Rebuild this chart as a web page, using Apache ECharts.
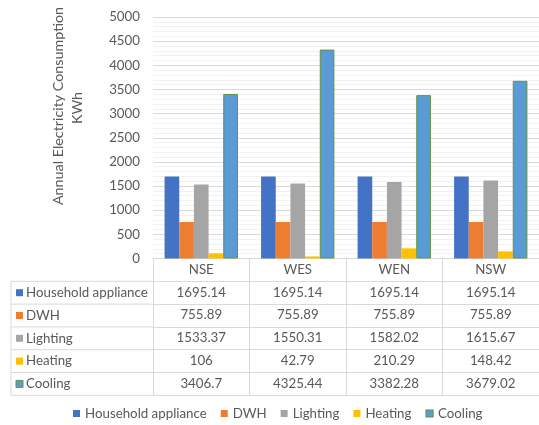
<!DOCTYPE html>
<html>
<head>
<meta charset="utf-8">
<script src="https://cdn.jsdelivr.net/npm/echarts@6/dist/echarts.min.js"></script>
<style>html,body{margin:0;padding:0;background:#fff}#c{width:539px;height:425px}</style>
</head>
<body>
<div id="c"></div>
<script>
var categories = ['NSE', 'WES', 'WEN', 'NSW'];
var seriesNames = ['Household appliance', 'DWH', 'Lighting', 'Heating', 'Cooling'];
var household = [1695.14, 1695.14, 1695.14, 1695.14];
var dwh = [755.89, 755.89, 755.89, 755.89];
var lighting = [1533.37, 1550.31, 1582.02, 1615.67];
var heating = [106, 42.79, 210.29, 148.42];
var cooling = [3406.7, 4325.44, 3382.28, 3679.02];
var yTicks = [0, 500, 1000, 1500, 2000, 2500, 3000, 3500, 4000, 4500, 5000];
var colors = ['#4472C4', '#ED7D31', '#A5A5A5', '#FFC000', '#5B9BD5'];

var seriesData = [household, dwh, lighting, heating, cooling];
var FONT = 'Lato';
var FS = 13.3;
var TXT = '#595959';
var LINE = '#D9D9D9';
var BORDER = '#5F9440';
var W = 539, H = 425;
var gridLeft = 153, gridTop = 17, axisY = 258.5, rowH = 22.8, tableLeft = 11;

var chart = echarts.init(document.getElementById('c'), null, {renderer: 'canvas'});

var xAxes = [{
  type: 'category', gridIndex: 0, position: 'bottom', data: categories,
  axisLine: {lineStyle: {color: LINE}},
  axisTick: {show: true, length: rowH, interval: 0, lineStyle: {color: LINE}},
  axisLabel: {color: TXT, fontFamily: FONT, fontSize: FS, margin: 4.5, interval: 0}
}];
seriesData.forEach(function (vals, k) {
  xAxes.push({
    type: 'category', gridIndex: 0, position: 'bottom', offset: rowH * (k + 1), data: categories,
    axisLine: {lineStyle: {color: LINE}},
    axisTick: {show: true, length: rowH, interval: 0, lineStyle: {color: LINE}},
    axisLabel: {color: TXT, fontFamily: FONT, fontSize: FS, margin: 4.5, interval: 0,
      formatter: (function (v) { return function (val, idx) { return String(v[idx]); }; })(vals)}
  });
});
xAxes.push({
  type: 'category', gridIndex: 0, position: 'bottom', offset: rowH * 6, data: categories,
  axisLine: {lineStyle: {color: LINE}}, axisTick: {show: false}, axisLabel: {show: false}
});

var series = seriesNames.map(function (name, i) {
  var s = {
    name: name, type: 'bar', xAxisIndex: 0, yAxisIndex: 0, data: seriesData[i],
    barGap: 0, barCategoryGap: '24%',
    itemStyle: {color: colors[i]}
  };
  if (i === 4) { s.itemStyle.borderColor = BORDER; s.itemStyle.borderWidth = 1; }
  return s;
});

var legendData = seriesNames.map(function (name, i) {
  var d = {name: name, itemStyle: {color: colors[i], borderWidth: 0}};
  if (i === 4) { d.itemStyle = {color: colors[i], borderColor: BORDER, borderWidth: 1.2}; }
  return d;
});

var graphics = [];
// y-axis title
graphics.push({type: 'text', x: 58, y: 106, rotation: Math.PI / 2,
  style: {text: 'Annual Electricity Consumption', fill: TXT, font: '14.3px ' + FONT, align: 'center', verticalAlign: 'middle'}});
graphics.push({type: 'text', x: 77, y: 108, rotation: Math.PI / 2,
  style: {text: 'KWh', fill: TXT, font: '14.3px ' + FONT, align: 'center', verticalAlign: 'middle'}});
// table label column
for (var r = 1; r <= 6; r++) {
  var yy = axisY + rowH * r;
  graphics.push({type: 'line', shape: {x1: tableLeft, y1: yy, x2: gridLeft, y2: yy}, style: {stroke: LINE, lineWidth: 1}});
}
graphics.push({type: 'line', shape: {x1: tableLeft, y1: axisY + rowH, x2: tableLeft, y2: axisY + rowH * 6}, style: {stroke: LINE, lineWidth: 1}});
seriesNames.forEach(function (name, i) {
  var cy = axisY + rowH * (i + 1) + rowH / 2;
  var sq = {type: 'rect', shape: {x: 16, y: cy - 3.5, width: 7, height: 7}, style: {fill: colors[i]}};
  if (i === 4) { sq.style.stroke = BORDER; sq.style.lineWidth = 1; }
  graphics.push(sq);
  graphics.push({type: 'text', x: 26, y: cy, style: {text: name, fill: TXT, font: FS + 'px ' + FONT, align: 'left', verticalAlign: 'middle'}});
});

chart.setOption({
  animation: false,
  textStyle: {fontFamily: FONT},
  color: colors,
  grid: {left: gridLeft, top: gridTop, right: -9, bottom: H - axisY, containLabel: false},
  xAxis: xAxes,
  yAxis: {
    type: 'value', min: yTicks[0], max: yTicks[yTicks.length - 1], interval: yTicks[1] - yTicks[0],
    axisLine: {show: false}, axisTick: {show: false},
    axisLabel: {color: TXT, fontFamily: FONT, fontSize: FS, margin: 13, formatter: function (v) { return String(v); }},
    splitLine: {lineStyle: {color: LINE}},
    minorTick: {show: false, splitNumber: 5},
    minorSplitLine: {show: true, lineStyle: {color: '#F2F2F2'}}
  },
  legend: {
    data: legendData, top: 407, left: 73, padding: 0, icon: 'rect', itemWidth: 7, itemHeight: 7, itemGap: 14,
    textStyle: {color: TXT, fontFamily: FONT, fontSize: FS}
  },
  series: series,
  graphic: graphics
});
</script>
</body>
</html>
